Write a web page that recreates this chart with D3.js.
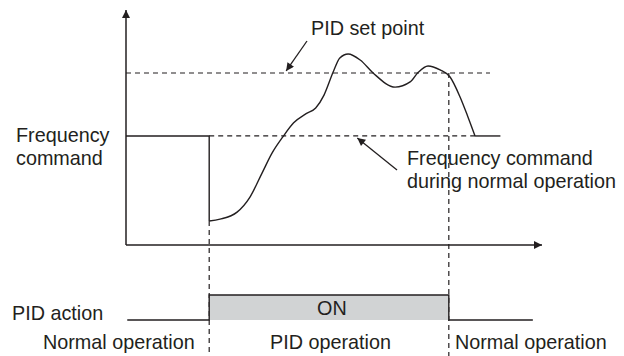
<!DOCTYPE html>
<html>
<head>
<meta charset="utf-8">
<script src="https://cdn.jsdelivr.net/npm/d3@7"></script>
<style>
  body { margin: 0; background: #fff; }
  text { font-family: "Liberation Sans", Arial, sans-serif; font-size: 19.8px; fill: #231f20; }
</style>
</head>
<body>
<svg id="chart" width="624" height="356"></svg>
<script>
// values (time 0..100, output 0..100)
var freqCommand = 46.4,
setPoint = 73.2,
pidStart = 20,
pidEnd = 77.6;

var freqBefore = [[0, 46.4], [20, 46.4], [20, 10.2]];
var pidResponse = [
  [20, 10.2], [22.6, 11], [26.7, 14], [29.8, 20.4], [32.7, 30.6], [35.1, 39.1],
  [37.7, 46], [40.3, 52], [43.3, 55.9], [45.6, 58.3], [47.6, 63.8], [49.8, 73.6],
  [51.4, 79.6], [53.4, 81.3], [56.3, 78.7], [59.4, 73.2], [64.7, 67.2], [68.3, 69.4],
  [70.2, 73.4], [72.6, 76.2], [75.5, 74.5], [77.9, 71.5], [80.3, 63], [82.2, 54.5],
  [83.9, 46.4]
];
var freqAfter = [[83.9, 46.4], [90, 46.4]];
var pidAction = [[0.3, 0], [20, 0], [20, 1], [77.6, 1], [77.6, 0], [97.8, 0]];

var labels = ['PID set point', 'Frequency', 'command', 'Frequency command',
  'during normal operation', 'PID action', 'ON', 'Normal operation', 'PID operation'];

var ink = '#231f20';
var svg = d3.select('#chart');

var x = d3.scaleLinear().domain([0, 100]).range([126, 542]);
var y = d3.scaleLinear().domain([0, 100]).range([245, 10]);
var s = d3.scaleLinear().domain([0, 1]).range([320, 295]);

var defs = svg.append('defs');
defs.append('marker').
attr('id', 'head').
attr('viewBox', '0 0 10 10').
attr('refX', 10).
attr('refY', 5).
attr('markerWidth', 10).
attr('markerHeight', 8).
attr('markerUnits', 'userSpaceOnUse').
attr('orient', 'auto').
append('path').
attr('d', 'M0,0L10,5L0,10Z').
attr('fill', ink);

var line = d3.line().x(d => x(d[0])).y(d => y(d[1]));

// axes
svg.append('line').
attr('x1', x(0)).attr('y1', y(0)).
attr('x2', x(0)).attr('y2', y(100)).
attr('stroke', ink).attr('stroke-width', 1.5).
attr('marker-end', 'url(#head)');
svg.append('line').
attr('x1', x(0)).attr('y1', y(0)).
attr('x2', x(100)).attr('y2', y(0)).
attr('stroke', ink).attr('stroke-width', 1.5).
attr('marker-end', 'url(#head)');

// dashed reference lines
var dash = '5,4';
svg.append('line').
attr('x1', x(0)).attr('y1', y(setPoint)).
attr('x2', x(87.5)).attr('y2', y(setPoint)).
attr('stroke', ink).attr('stroke-width', 1.2).attr('stroke-dasharray', dash);
svg.append('line').
attr('x1', x(pidStart)).attr('y1', y(freqCommand)).
attr('x2', x(83.9)).attr('y2', y(freqCommand)).
attr('stroke', ink).attr('stroke-width', 1.2).attr('stroke-dasharray', dash);
svg.append('line').
attr('x1', x(pidStart)).attr('y1', y(10.2)).
attr('x2', x(pidStart)).attr('y2', 356).
attr('stroke', ink).attr('stroke-width', 1.2).attr('stroke-dasharray', dash);
svg.append('line').
attr('x1', x(pidEnd)).attr('y1', y(setPoint)).
attr('x2', x(pidEnd)).attr('y2', 356).
attr('stroke', ink).attr('stroke-width', 1.2).attr('stroke-dasharray', dash);

// frequency output
svg.append('path').
attr('d', line(freqBefore)).
attr('fill', 'none').attr('stroke', ink).attr('stroke-width', 1.4);
svg.append('path').
attr('d', line.curve(d3.curveMonotoneX)(pidResponse)).
attr('fill', 'none').attr('stroke', ink).attr('stroke-width', 1.4);
line.curve(d3.curveLinear);
svg.append('path').
attr('d', line(freqAfter)).
attr('fill', 'none').attr('stroke', ink).attr('stroke-width', 1.4);

// PID action timing
svg.append('path').
attr('d', d3.area().x(d => x(d[0])).y0(s(0)).y1(d => s(d[1]))(pidAction)).
attr('fill', '#d1d3d4');
svg.append('path').
attr('d', d3.line().x(d => x(d[0])).y(d => s(d[1]))(pidAction)).
attr('fill', 'none').attr('stroke', ink).attr('stroke-width', 1.4);

// annotation arrows
svg.append('line').
attr('x1', 307).attr('y1', 41).attr('x2', x(38.5)).attr('y2', y(setPoint) - 2).
attr('stroke', ink).attr('stroke-width', 1.3).attr('marker-end', 'url(#head)');
svg.append('line').
attr('x1', 397).attr('y1', 170).attr('x2', x(55.6)).attr('y2', y(freqCommand) + 2).
attr('stroke', ink).attr('stroke-width', 1.3).attr('marker-end', 'url(#head)');

// texts
var tx = [
  [labels[0], 311, 35],
  [labels[1], 16, 142],
  [labels[2], 16, 165],
  [labels[3], 407, 165],
  [labels[4], 407, 188],
  [labels[5], 12, 320],
  [labels[6], 317, 315],
  [labels[7], 43, 349],
  [labels[8], 270, 349],
  [labels[7], 455, 349]
];
svg.selectAll('text.lbl').
data(tx).
enter().
append('text').
attr('class', 'lbl').
attr('x', d => d[1]).
attr('y', d => d[2]).
text(d => d[0]);
</script>
</body>
</html>
